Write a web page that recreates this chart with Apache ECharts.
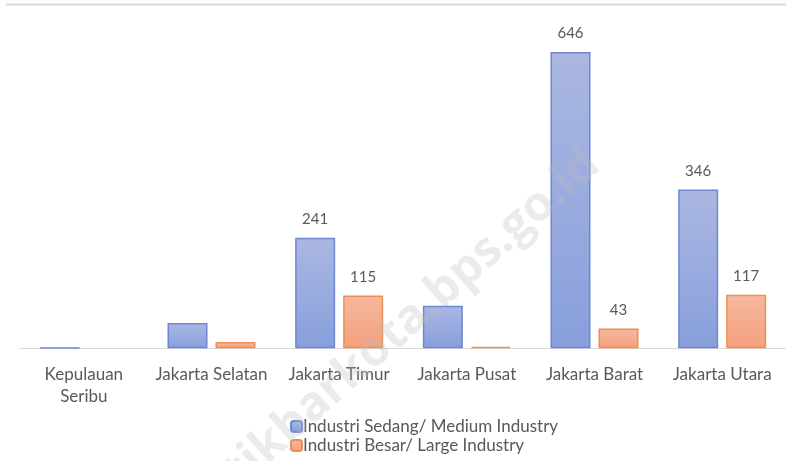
<!DOCTYPE html>
<html>
<head>
<meta charset="utf-8">
<script src="https://cdn.jsdelivr.net/npm/echarts@6/dist/echarts.min.js"></script>
<style>
  html, body { margin: 0; padding: 0; background: #fff; }
  #chart { width: 786px; height: 461px; }
</style>
</head>
<body>
<div id="chart"></div>
<script>
var categories = ['Kepulauan\nSeribu', 'Jakarta Selatan', 'Jakarta Timur', 'Jakarta Pusat', 'Jakarta Barat', 'Jakarta Utara'];
var medium = [1, 55, 241, 93, 646, 346];
var large = [0, 14, 115, 3, 43, 117];
// which bars carry a value label in the original
var mediumLabel = [false, false, true, false, true, true];
var largeLabel = [false, false, true, false, true, true];

function withLabels(values, flags) {
    return values.map(function (v, i) {
        var item = { value: v, label: { show: flags[i] } };
        if (v === 0) item.itemStyle = { borderWidth: 0 };
        return item;
    });
}

var chart = echarts.init(document.getElementById('chart'));
var font = 'Lato, "Open Sans", sans-serif';
var option = {
    animation: false,
    textStyle: { fontFamily: font },
    grid: { left: 20, right: 0, top: 52, bottom: 112.7, containLabel: false },
    graphic: [
        { type: 'line', shape: { x1: 6, y1: 4.5, x2: 786, y2: 4.5 }, style: { stroke: '#d9d9d9', lineWidth: 2 } },
        {
            type: 'text', x: 593, y: 158, rotation: 0.725, z: 100,
            style: {
                text: 'statistikbarkota.bps.go.id', align: 'right', verticalAlign: 'middle',
                font: 'bold 48px "Open Sans", sans-serif', fill: 'rgba(190,190,190,0.3)'
            }
        }
    ],
    legend: {
        orient: 'vertical', left: 285, top: 413, itemGap: 2,
        itemWidth: 11, itemHeight: 11,
        textStyle: { color: '#595959', fontSize: 17, fontFamily: font, padding: [0, 0, 0, -4] },
        data: ['Industri Sedang/ Medium Industry', 'Industri Besar/ Large Industry']
    },
    xAxis: {
        type: 'category', data: categories,
        axisLine: { lineStyle: { color: '#d9d9d9', width: 1 } },
        axisTick: { show: false },
        axisLabel: { color: '#595959', fontSize: 17, margin: 15, lineHeight: 22, interval: 0, fontFamily: font }
    },
    yAxis: { type: 'value', min: 0, max: 646, show: false, splitLine: { show: false } },
    series: [
        {
            name: 'Industri Sedang/ Medium Industry', type: 'bar', barWidth: 40, barGap: '20%',
            itemStyle: {
                color: new echarts.graphic.LinearGradient(0, 0, 0, 1, [
                    { offset: 0, color: '#abb7e1' }, { offset: 1, color: '#889fdc' }
                ]),
                borderColor: '#6d88d2', borderWidth: 1.5
            },
            label: { position: 'top', distance: 11, color: '#595959', fontSize: 15, fontFamily: font },
            data: withLabels(medium, mediumLabel)
        },
        {
            name: 'Industri Besar/ Large Industry', type: 'bar', barWidth: 40,
            itemStyle: {
                color: new echarts.graphic.LinearGradient(0, 0, 0, 1, [
                    { offset: 0, color: '#f6b89e' }, { offset: 1, color: '#f4a07e' }
                ]),
                borderColor: '#ef8e52', borderWidth: 1.5
            },
            label: { position: 'top', distance: 11, color: '#595959', fontSize: 15, fontFamily: font },
            data: withLabels(large, largeLabel)
        }
    ]
};
chart.setOption(option);
</script>
</body>
</html>
